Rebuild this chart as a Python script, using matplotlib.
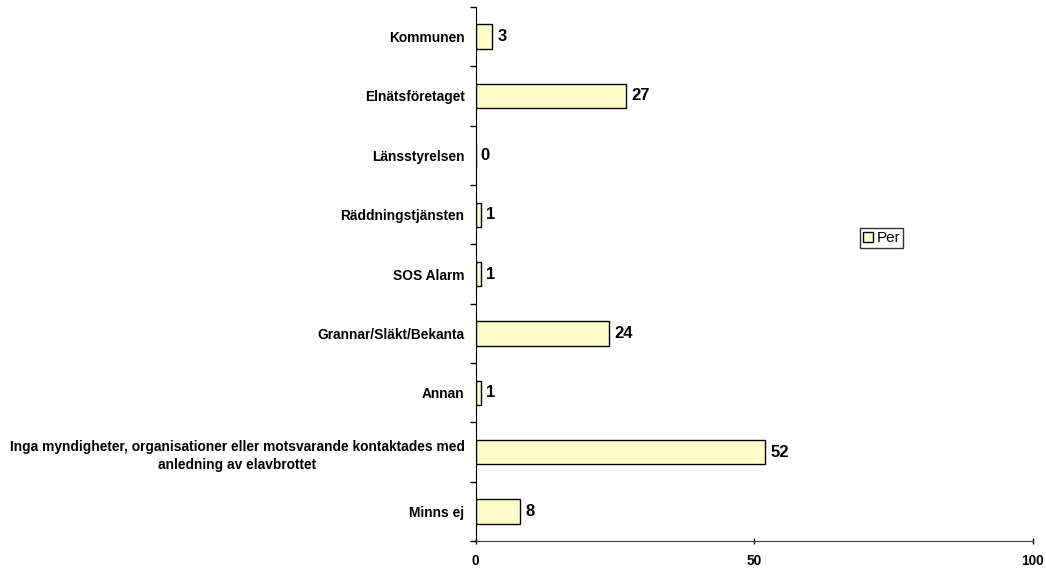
import numpy as np
import matplotlib
matplotlib.use("Agg")
import matplotlib.pyplot as plt

plt.rcParams['font.family'] = ['Liberation Sans', 'DejaVu Sans']

# data, top to bottom as in the chart
categories = ["Kommunen", "Elnätsföretaget", "Länsstyrelsen", "Räddningstjänsten",
              "SOS Alarm", "Grannar/Släkt/Bekanta", "Annan",
              "Inga myndigheter, organisationer eller motsvarande kontaktades med\nanledning av elavbrottet",
              "Minns ej"]
values = [3, 27, 0, 1, 1, 24, 1, 52, 8]
series_name = "Per"
xticks = [0, 50, 100]

fig = plt.figure(figsize=(10.46, 5.68), dpi=100)
ax = fig.add_axes([0.4548, 0.0475, 0.5325, 0.9402])

n = len(categories)
pos = np.arange(n)
bars = ax.barh(pos, values, height=0.41, color='#FFFFCC', edgecolor='black',
               linewidth=1.0, label=series_name)

for p, v in zip(pos, values):
    ax.text(v + 0.9, p, str(v), va='center', ha='left', fontsize=12,
            fontweight='bold')

ax.set_ylim(n - 0.5, -0.5)
ax.set_xlim(0, 100)
ax.set_yticks(pos)
ax.set_yticklabels(categories, fontsize=9.9, fontweight='bold',
                   multialignment='center', linespacing=1.4)
ax.set_yticks(np.arange(-0.5, n, 1), minor=True)
ax.tick_params(axis='y', which='major', length=0, pad=8)
ax.tick_params(axis='y', which='minor', length=4, width=1, direction='out')

ax.set_xticks(xticks)
ax.set_xticklabels([str(t) for t in xticks], fontsize=9.8, fontweight='bold')
ax.tick_params(axis='x', which='major', length=5, width=1, direction='inout', pad=7)

ax.spines["top"].set_visible(False)
ax.spines["right"].set_visible(False)
ax.spines["left"].set_color('black')
ax.spines["bottom"].set_color('#404040')

leg = ax.legend(loc='center', bbox_to_anchor=(0.7286, 0.567), fontsize=11,
                frameon=True, fancybox=False, edgecolor='black',
                handlelength=0.7, handleheight=0.7, handletextpad=0.2,
                borderpad=0.2, borderaxespad=0)
leg.get_frame().set_linewidth(1.0)

plt.savefig("out.png", dpi=100)
